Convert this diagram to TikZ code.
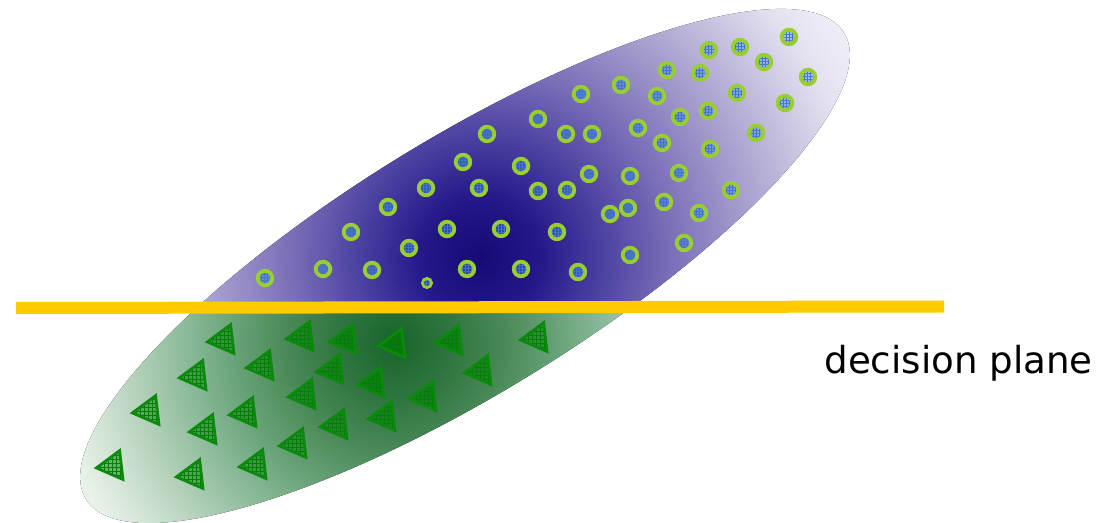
\documentclass[tikz,border=0pt]{standalone}
\usepackage{fontspec}
\setmainfont{DejaVu Sans}
\usetikzlibrary{shapes.geometric,patterns.meta}
\definecolor{ygreen}{HTML}{9ACD32}
\definecolor{cfill}{HTML}{4A8CE0}
\definecolor{cgrid}{HTML}{3A78D0}
\definecolor{tline}{HTML}{0A8A0A}
\definecolor{tfill}{HTML}{008000}
\definecolor{lineyel}{HTML}{FFCC00}
\definecolor{p0}{HTML}{150A75}
\definecolor{p1}{HTML}{24188A}
\definecolor{p2}{HTML}{4E44A2}
\definecolor{p3}{HTML}{7A6FB8}
\definecolor{p4}{HTML}{A49BCC}
\definecolor{p5}{HTML}{E4E2F0}
\definecolor{p6}{HTML}{F4F3FA}
\definecolor{g0}{HTML}{18652A}
\definecolor{g1}{HTML}{2F7540}
\definecolor{g2}{HTML}{4A8A58}
\definecolor{g3}{HTML}{6AA47A}
\definecolor{g4}{HTML}{88B898}
\definecolor{g5}{HTML}{B0CFB6}
\definecolor{g6}{HTML}{DCEADE}
\definecolor{g7}{HTML}{E8F2E9}
\definecolor{g8}{HTML}{F2F8F2}
\pgfdeclareradialshading{purpsh}{\pgfpoint{0bp}{0bp}}{%
 color(0bp)=(p0); color(3.3bp)=(p1); color(7bp)=(p2); color(10.6bp)=(p3);
 color(14.6bp)=(p4); color(21.2bp)=(p5); color(25bp)=(p6); color(50bp)=(p6)}
\pgfdeclareradialshading{greensh}{\pgfpoint{0bp}{0bp}}{%
 color(0bp)=(g0); color(3.5bp)=(g1); color(6.9bp)=(g2); color(10.3bp)=(g3);
 color(12.9bp)=(g4); color(16.1bp)=(g5); color(20bp)=(g6); color(21.3bp)=(g7);
 color(25bp)=(g8); color(50bp)=(g8)}
\tikzset{
 dot/.style={circle, draw=ygreen, line width=1.9pt, minimum size=7.3pt, inner sep=0pt,
   preaction={fill=cfill, fill opacity=0.42},
   preaction={pattern={Hatch[angle=0,distance=1.5pt,line width=0.3pt]}, pattern color=cgrid, fill opacity=0.2}},
 smalldot/.style={dot, line width=1.35pt, minimum size=4.6pt},
 tri/.style={regular polygon, regular polygon sides=3, draw=tline, line width=1.35pt,
   minimum size=16.8pt, inner sep=0pt, rotate=96.6,
   preaction={fill=tfill, fill opacity=0.5},
   pattern={Hatch[angle=0,distance=2pt,line width=0.3pt]}, pattern color=tfill, fill opacity=0.3},
 plane/.style={line width=6pt, draw=lineyel}
}
\begin{document}
\begin{tikzpicture}[x=0.5pt,y=-0.5pt]
\useasboundingbox (0,0) rectangle (1097,523);
% shaded ellipse
\begin{scope}
 \clip[rotate around={31.6:(465,266)}] (465,266) ellipse (222.5pt and 63.5pt);
 \begin{scope}
  \clip (0,0) rectangle (1097,307);
  \fill[shading=purpsh] (480,257) circle (225pt);
 \end{scope}
 \begin{scope}
  \clip (0,307) rectangle (1097,523);
  \fill[shading=greensh] (395,342) circle (200pt);
 \end{scope}
\end{scope}
% decision plane
\coordinate (pl) at (16,308);
\coordinate (pr) at (944,306.5);
\draw[plane] (pl) -- (pr);
\node[anchor=base west, font=\fontsize{18.6}{22}\selectfont, inner sep=0pt] (lab) at (824,373) {decision plane};
% circles
\foreach \x/\y [count=\i] in {789/37,740/47,709/50,667/70,700/73,764/62,808/77,737/93,785/103,
 621/85,657/96,581/94,708/111,680/117,538/119,566/134,592/134,487/134,638/128,662/143,
 756/133,710/149,463/162,521/166,589/174,630/176,679/173,426/188,479/188,538/191,567/190,
 731/190,388/207,610/214,628/208,664/202,699/213,351/232,447/229,501/229,557/232,409/248,
 684/243,630/255,265/278,323/269,372/270,467/269,521/269,578/272}
 \node[dot] (c\i) at (\x,\y) {};
\node[smalldot] (cs) at (427,283) {};
% triangles
\foreach \x/\y [count=\i] in {224/340,303/337,346/340,395/344,452/341,537/338,
 196/376,263/366,333/370,374/383,481/371,
 149/411,206/430,246/413,305/395,385/417,426/397,337/425,
 296/444,256/465,193/475,113/466}
 \node[tri] (t\i) at (\x,\y) {};
\end{tikzpicture}
\end{document}
